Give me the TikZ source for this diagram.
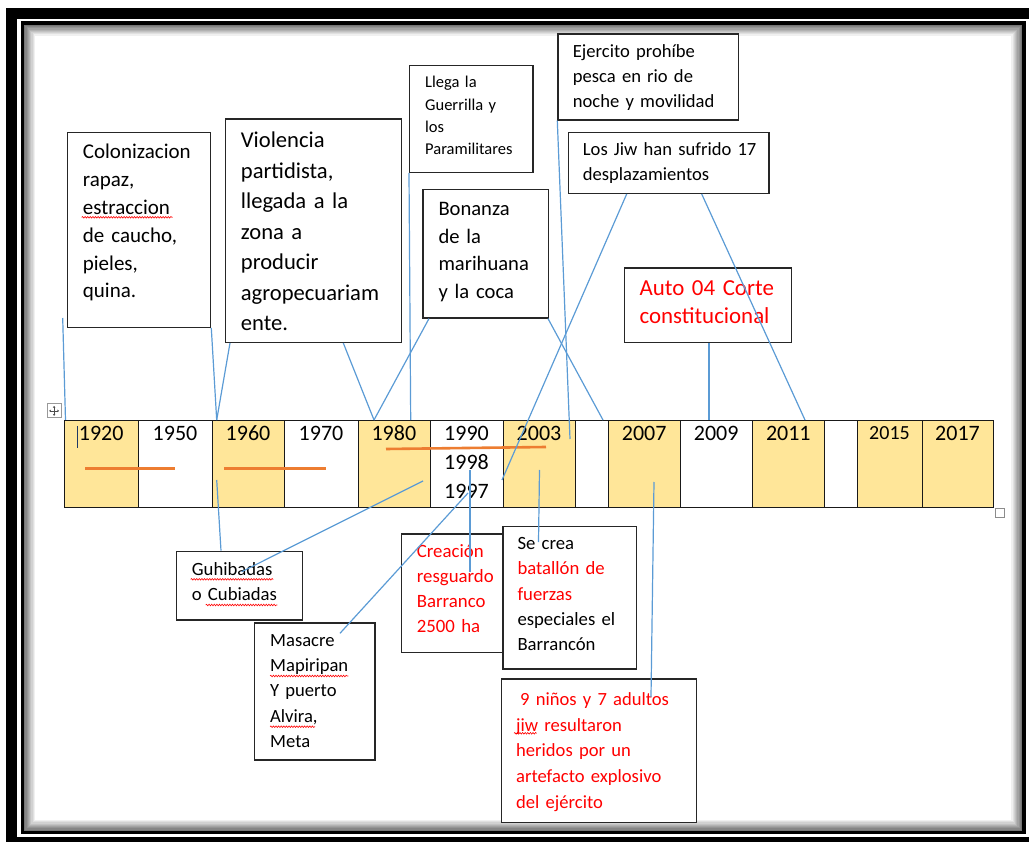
\documentclass[tikz,border=0pt]{standalone}
\usepackage{fontspec}
\setmainfont{Carlito}
\usetikzlibrary{decorations.pathmorphing,arrows.meta,calc}
\definecolor{cellY}{HTML}{FFE699}
\definecolor{connblue}{HTML}{5B9BD5}
\definecolor{orng}{HTML}{ED7D31}
\definecolor{wordred}{HTML}{FF0000}
\definecolor{curs}{HTML}{1F3864}
\newcommand\fs[2]{\fontsize{#1}{#2}\selectfont}
\begin{document}
\begin{tikzpicture}[x=1pt,y=-1pt,
  box/.style={draw=black!85, line width=1.3pt, fill=white, inner sep=0, anchor=north west},
  txt/.style={inner sep=0, anchor=base west, align=left, text width=260pt},
  cell/.style={draw=black!90, line width=1.1pt, inner sep=0, anchor=north west, minimum height=86.7pt},
  year/.style={inner sep=0, anchor=base, font=\fs{22}{29}},
  link/.style={draw=connblue, line width=1.2pt},
  spell/.style={draw=wordred, line width=0.6pt, decorate, decoration={snake, amplitude=0.8pt, segment length=2.6pt}},
  uline/.style={draw=orng, line width=2.6pt},
  ]
\useasboundingbox (0,0) rectangle (1029,842);
% outer frame
\fill[black] (6,8) rectangle (1029,19);
\fill[black] (6,8) rectangle (17,842);
\fill[black] (6,837) rectangle (1029,842);
% inner shadow
\foreach \i in {1,...,10}{
  \pgfmathtruncatemacro\g{66-6*\i}
  \draw[black!\g, line width=1.2pt] ({22.3+1.2*\i},{23+1.2*\i}) rectangle ({1024-1.2*\i},{832.5-1.2*\i});
}
\draw[black, line width=3.4pt] (22.3,23) rectangle (1024,832.5);

% table
\foreach \n/\a/\b/\f/\t in {1/64/138.3/cellY/1920, 2/138.3/211.7/white/1950, 3/211.7/284.3/cellY/1960,
  4/284.3/357.7/white/1970, 5/357.7/430/cellY/1980, 6/430/503/white/1990, 7/503/575/cellY/2003,
  8/575/608.3/white/, 9/608.3/680/cellY/2007, 10/680/752.3/white/2009, 11/752.3/824.3/cellY/2011,
  12/824.3/857.3/white/, 14/921.7/993.3/cellY/2017}{
  \node[cell, fill=\f, minimum width={\b pt-\a pt}] (c\n) at (\a,420) {};
  \node[year] (y\n) at ({(\a+\b)/2},441) {\t};
}
\node[cell, fill=cellY, minimum width={921.7pt-857.3pt}] (c13) at (857.3,420) {};
\node[year, font=\fs{20}{26}] (y13) at (889.5,440) {2015};
\node[year] (y1998) at (466.5,469.5) {1998};
\node[year] (y1997) at (466.5,498) {1997};
\draw[curs, line width=1pt] (77.3,426) -- (77.3,448);

% table handles
\node[draw=black!40, line width=0.8pt, minimum size=14pt, inner sep=0, anchor=north west, fill=white] (handle) at (46.7,403.5) {};
\draw[black!70, line width=0.6pt, {Stealth[length=2pt,width=2.6pt]}-{Stealth[length=2pt,width=2.6pt]}] ($(handle.center)+(-5,0)$) -- ($(handle.center)+(5,0)$);
\draw[black!70, line width=0.6pt, {Stealth[length=2pt,width=2.6pt]}-{Stealth[length=2pt,width=2.6pt]}] ($(handle.center)+(0,-5)$) -- ($(handle.center)+(0,5)$);
\node[draw=black!45, line width=0.8pt, minimum size=9pt, inner sep=0, anchor=north west, fill=white] (resize) at (995,508) {};

% orange underlines
\draw[uline] (85,468.7) -- (175,468.7);
\draw[uline] (224,468.7) -- (325.7,468.7);
\draw[uline] (386,449) -- (546,447);

% boxes
\node[box, minimum width=143.3pt, minimum height=195pt] (A) at (66.7,131.7) {};
\node[box, minimum width=176pt, minimum height=223.4pt] (B) at (225,118.3) {};
\node[box, minimum width=123.3pt, minimum height=106.7pt] (C) at (409,65) {};
\node[box, minimum width=125.4pt, minimum height=128.3pt] (D) at (422.3,189) {};
\node[box, minimum width=180.4pt, minimum height=86pt] (E) at (557.3,33.3) {};
\node[box, minimum width=200.6pt, minimum height=61pt] (F) at (567.7,131.7) {};
\node[box, minimum width=166.7pt, minimum height=74.4pt] (G) at (624,267.3) {};
\node[box, minimum width=126pt, minimum height=68.6pt] (H) at (175.7,550.7) {};
\node[box, minimum width=120.3pt, minimum height=137pt] (I) at (254,622.3) {};
\node[box, minimum width=111pt, minimum height=118.4pt] (J) at (401,533.3) {};
\node[box, minimum width=133.7pt, minimum height=142.6pt] (K) at (502.3,525.7) {};
\node[box, minimum width=195.3pt, minimum height=143.4pt] (L) at (500.7,678.3) {};

% texts
\node[txt, font=\fs{21}{27.8}] (At) at (82.7,158.9) {Colonizacion\\rapaz,\\estraccion\\de caucho,\\pieles,\\quina.};
\node[txt, font=\fs{22.6}{30.5}] (Bt) at (240.7,148) {Violencia\\partidista,\\llegada a la\\zona a\\producir\\agropecuariam\\ente.};
\node[txt, font=\fs{16.5}{22.2}] (Ct) at (425,88) {Llega la\\Guerrilla y\\los\\Paramilitares};
\node[txt, font=\fs{20.6}{27.5}] (Dt) at (438.3,215.8) {Bonanza\\de la\\marihuana\\y la coca};
\node[txt, font=\fs{18.6}{25}] (Et) at (572.7,57.5) {Ejercito prohíbe\\pesca en rio de\\noche y movilidad};
\node[txt, font=\fs{18.6}{25}] (Ft) at (582.7,155.9) {Los Jiw han sufrido 17\\desplazamientos};
\node[txt, font=\fs{22.9}{28}, text=wordred] (Gt) at (639.3,295.7) {Auto 04 Corte\\constitucional};
\node[txt, font=\fs{18.7}{25}] (Ht) at (191.7,575.2) {Guhibadas\\o Cubiadas};
\node[txt, font=\fs{18.6}{25.3}] (It) at (270,646.2) {Masacre\\Mapiripan\\Y puerto\\Alvira,\\Meta};
\node[txt, font=\fs{18.8}{25.1}, text=wordred] (Jt) at (416.7,557.6) {Creación\\resguardo\\Barranco\\2500 ha};
\node[txt, font=\fs{18.7}{25.4}] (Kt) at (517.3,549.2) {Se crea\\\textcolor{wordred}{batallón de}\\\textcolor{wordred}{fuerzas}\\especiales el\\Barrancón};
\node[txt, font=\fs{18.6}{25.8}, text=wordred] (Lt) at (516,705.2) {\hspace*{4pt}9 niños y 7 adultos\\jiw resultaron\\heridos por un\\artefacto explosivo\\del ejército};

% spelling marks
\draw[spell] (81.7,217.3) -- (172.7,217.3);
\draw[spell] (190.7,579.3) -- (273.3,579.3);
\draw[spell] (205.7,605) -- (277.3,605);
\draw[spell] (270,676) -- (348.3,676);
\draw[spell] (270,726.7) -- (315,726.7);
\draw[spell] (514,733.3) -- (536.7,733.3);

% connector end points
\coordinate (free) at (62.7,318);
\coordinate (t1920) at (65.5,420);
\coordinate (t1960) at (216.7,420);
\coordinate (t1980) at (374,420);
\coordinate (t1980b) at (410.7,420);
\coordinate (tgap) at (603,420);
\coordinate (in2003) at (570,439);
\coordinate (edge2003) at (502,480);
\coordinate (t2011) at (805,420);
\coordinate (t2009) at (709,420);
\coordinate (in1960) at (216.7,480);
\coordinate (in1980) at (423,481);
\coordinate (at1997) at (468,493);
\coordinate (at1998) at (470,470);
\coordinate (in2003b) at (539.5,470);
\coordinate (in2007) at (654,482);

% connectors
\draw[link] (free) -- (t1920);
\draw[link] (A.south east) -- (t1960);
\draw[link] ($(B.south west)+(5,0)$) -- (t1960);
\draw[link] ($(B.south west)+(118.3,0)$) -- (t1980);
\draw[link] ($(D.south west)+(6.7,0)$) -- (t1980);
\draw[link] (C.south west) -- (t1980b);
\draw[link] ($(D.south east)+(-1,0)$) -- (tgap);
\draw[link] (E.south west) -- (in2003);
\draw[link] ($(F.south west)+(59,0)$) -- (edge2003);
\draw[link] ($(F.south west)+(134,0)$) -- (t2011);
\draw[link] ($(G.south west)+(85,0)$) -- (t2009);
\draw[link] (in1960) -- ($(H.north west)+(45.3,0)$);
\draw[link] (in1980) -- ($(H.north west)+(66,21)$);
\draw[link] (at1997) -- ($(I.north west)+(86,11)$);
\draw[link] (at1998) -- ($(J.north west)+(69,38.7)$);
\draw[link] (in2003b) -- ($(K.north west)+(36.2,16.3)$);
\draw[link] (in2007) -- ($(L.north west)+(150.3,18.7)$);
\end{tikzpicture}
\end{document}
